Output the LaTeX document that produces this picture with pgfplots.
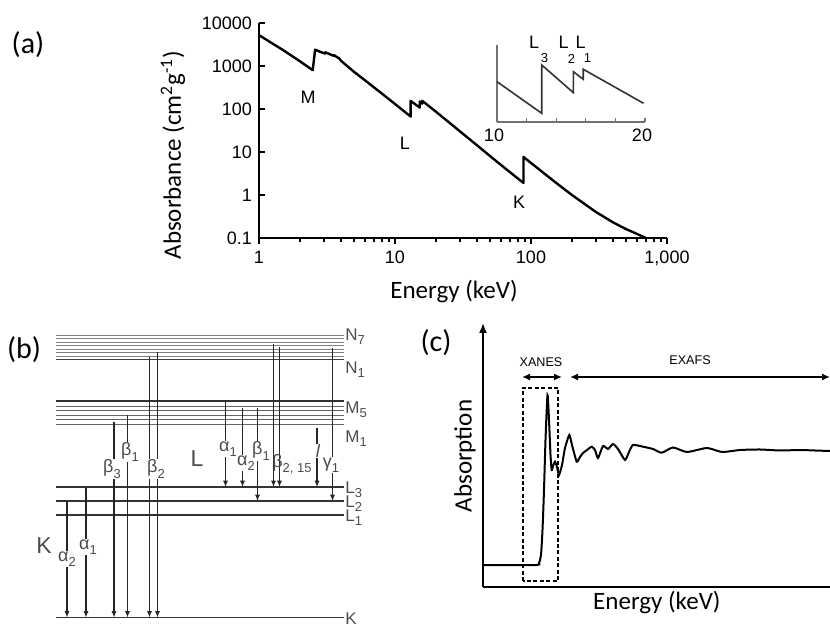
\documentclass[border=0pt]{standalone}
\usepackage{fontspec}
\setmainfont{Carlito}
\newfontfamily\arial{Liberation Sans}
\usepackage{pgfplots}
\pgfplotsset{compat=1.18}
\usetikzlibrary{arrows.meta}

% 1 px of the reference = 0.5pt; axes placed at (px*0.5pt, (626-py)*0.5pt)
\newcommand{\sub}[1]{\raisebox{-0.55ex}{\fontsize{6.5}{7}\selectfont #1}}

\pgfplotstableread{
E mu
1.0 5210
1.5 2356
2.0 1285
2.484 800
2.586 2400
2.8 2150
3.066 1950
3.066 2080
3.554 1720
3.554 1790
3.851 1520
3.851 1560
4.0 1330
5.0 730
6.0 467
8.0 229
10.0 130.6
13.04 66.7
13.04 154
15.2 108
15.2 149
15.86 133
15.86 155
20.0 86.4
30.0 30.3
40.0 14.4
50.0 8.04
60.0 5.02
80.0 2.42
88.0 1.91
88.0 7.68
100 5.55
150 2.01
200 0.999
300 0.403
400 0.232
500 0.161
600 0.125
700 0.100
}\pbtable

\pgfplotstableread{
E a
10.0 40.3
13.02 8.7
13.02 57
15.16 29.3
15.16 50.3
15.83 42.7
15.83 52.7
19.9 18.7
}\insettable

\pgfplotstableread{
E a
0 22
53 22
56 24
58 32
59.5 57
61 97
62.5 147
64.5 192
66 167
67.5 132
68.7 117
70 121
72 125.3
74 120
76 112
79 122
82 139
86.3 152
89 142
93.7 125.3
97 130
100 134
104 137
108.7 140.3
112 137
115 129
120 141
125 138
130 143
135 138
142 127
146 135
150 142
160 140.3
170 138
178.7 134.3
190 139.5
204 135
224 139
239 135
257 137
277 137.5
297 136.5
317 137
332 136.5
347 136
}\xastable

\begin{document}
\begin{tikzpicture}
\path[use as bounding box] (0,0) rectangle (415pt,313pt);

% ---------------- (a) absorbance of lead
\begin{axis}[at={(129.5pt,194pt)}, anchor=south west, scale only axis,
  width=204pt, height=107.5pt,
  xmode=log, ymode=log, xmin=1, xmax=1000, ymin=0.1, ymax=10000,
  axis lines*=left, axis line style={line width=1pt},
  xtick={1,10,100,1000}, xticklabels={1,10,100,{1,000}},
  ytick={0.1,1,10,100,1000,10000}, yticklabels={0.1,1,10,100,1000,10000},
  yminorticks=false,
  xtick align=outside, ytick align=inside,
  major tick length=3pt, minor tick length=2pt,
  tick style={line width=0.8pt, black},
  ticklabel style={font=\arial\fontsize{9}{10}\selectfont},
  xlabel={Energy (keV)},
  ylabel={Absorbance (cm\textsuperscript{2}g\textsuperscript{-1})},
  label style={font=\fontsize{12.5}{14}\selectfont},
  xlabel style={at={(axis description cs:0.478,-0.251)}, anchor=center},
  ylabel style={at={(axis description cs:-0.211,0.386)}, anchor=center},
  clip=false]
\addplot[black, line width=1.2pt, line join=round] table[x=E, y=mu] {\pbtable};
\end{axis}

% inset: L edges
\begin{axis}[at={(248.5pt,252pt)}, anchor=south west, scale only axis,
  width=74pt, height=38.5pt,
  xmin=10, xmax=20, ymin=0, ymax=77,
  axis lines*=left, axis line style={black!55, line width=0.7pt},
  xtick={10,20}, xticklabels={10,20}, minor xtick={12,14,16,18}, ytick=\empty,
  major tick length=2pt, minor tick length=2pt,
  tick style={black!55, line width=0.6pt},
  ticklabel style={font=\arial\fontsize{9}{10}\selectfont, xshift=-1.5pt},
  clip=false]
\addplot[black!80, line width=0.8pt] table[x=E, y=a] {\insettable};
\end{axis}

% ---------------- (c) XANES / EXAFS
\begin{axis}[at={(241.5pt,19.5pt)}, anchor=south west, scale only axis,
  width=173.5pt, height=132pt,
  xmin=0, xmax=347, ymin=0, ymax=264,
  axis lines*=left, axis line style={line width=0.8pt},
  y axis line style={-{Latex[length=5pt,width=4pt]}},
  xtick=\empty, ytick=\empty,
  xlabel={Energy (keV)}, ylabel={Absorption},
  label style={font=\fontsize{12.5}{14}\selectfont},
  xlabel style={at={(axis description cs:0.501,-0.057)}, anchor=center},
  ylabel style={at={(axis description cs:-0.052,0.496)}, anchor=center},
  clip=false]
\addplot[black, line width=1pt, smooth, tension=0.35] table[x=E, y=a] {\xastable};
\draw[line width=0.8pt, dash pattern=on 2pt off 1.2pt] (40,6) rectangle (75,199);
\draw[line width=0.8pt, {Latex[length=4pt,width=3.5pt]}-{Latex[length=4pt,width=3.5pt]}] (39,210) -- (79,210);
\draw[line width=0.8pt, {Latex[length=4pt,width=3.5pt]}-{Latex[length=4pt,width=3.5pt]}] (87,210) -- (347,210);
\end{axis}

% ---------------- overlay in pixel units: (b) and the labels
\begin{axis}[at={(207.5pt,156.5pt)}, anchor=center, scale only axis,
  width=415pt, height=313pt,
  xmin=0, xmax=830, ymin=0, ymax=626, y dir=reverse,
  hide axis, clip=false]
% N levels
\pgfplotsinvokeforeach{335,338.5,342,345.5,349,352.5,356}{
  \addplot[black!50, line width=0.5pt] coordinates {(56,#1) (344,#1)};}
\addplot[black!75, line width=0.6pt] coordinates {(56,359.5) (344,359.5)};
% M levels
\addplot[black!80, line width=0.6pt] coordinates {(56,401) (344,401)};
\pgfplotsinvokeforeach{406,410.5,415,419.5,424}{
  \addplot[black!60, line width=0.5pt] coordinates {(56,#1) (344,#1)};}
% L and K levels
\pgfplotsinvokeforeach{487,501,515,617.5}{
  \addplot[black!80, line width=0.6pt] coordinates {(56,#1) (344,#1)};}
% transitions
\pgfplotsset{tr/.style={black!85, line width=0.55pt, -{Latex[length=3.2pt,width=2.6pt]}}}
\addplot[tr] coordinates {(67,501) (67,617.5)};
\addplot[tr] coordinates {(86,487) (86,617.5)};
\addplot[tr] coordinates {(114,422) (114,617.5)};
\addplot[tr] coordinates {(127.5,415) (127.5,617.5)};
\addplot[tr] coordinates {(149.5,357) (149.5,617.5)};
\addplot[tr] coordinates {(157.5,352) (157.5,617.5)};
\addplot[tr] coordinates {(225.5,401) (225.5,487)};
\addplot[tr] coordinates {(242.5,408) (242.5,487)};
\addplot[tr] coordinates {(257.5,408) (257.5,501)};
\addplot[tr] coordinates {(273.5,344) (273.5,487)};
\addplot[tr] coordinates {(279.5,347) (279.5,487)};
\addplot[tr] coordinates {(317,428) (317,487)};
\addplot[tr] coordinates {(332.5,348) (332.5,501)};

% transition labels
\tikzset{gl/.style={font=\arial\fontsize{9}{10}\selectfont, text=black!70, fill=white, inner sep=0.4pt}}
\node[gl] at (67,559) {α\sub{2}};
\node[gl] at (88,547) {α\sub{1}};
\node[gl] at (112,469) {β\sub{3}};
\node[gl] at (130,452) {β\sub{1}};
\node[gl] at (156,469) {β\sub{2}};
\node[gl] at (228,449) {α\sub{1}};
\node[gl] at (246,463) {α\sub{2}};
\node[gl] at (261,451) {β\sub{1}};
\node[gl, fill=none] at (292,464) {β\sub{2, 15}};
\node[gl] at (318,451) {\textit{l}};
\node[gl] at (331,465) {γ\sub{1}};
\node[font=\arial\fontsize{11.5}{12}\selectfont, text=black!70] at (44,546) {K};
\node[font=\arial\fontsize{11.5}{12}\selectfont, text=black!70] at (197,459) {L};

% level labels
\tikzset{ll/.style={font=\arial\fontsize{8.5}{9}\selectfont, text=black!70, anchor=base west, inner sep=0pt}}
\node[ll] at (345,340) {N\sub{7}};
\node[ll] at (345,373) {N\sub{1}};
\node[ll] at (345,413) {M\sub{5}};
\node[ll] at (345,442) {M\sub{1}};
\node[ll] at (345,493) {L\sub{3}};
\node[ll] at (345,507) {L\sub{2}};
\node[ll] at (345,521) {L\sub{1}};
\node[ll] at (345,624) {K};

% panel (a) labels
\tikzset{al/.style={font=\arial\fontsize{9}{10}\selectfont, inner sep=0pt}}
\node[al] at (308,97) {M};
\node[al] at (405,143) {L};
\node[al] at (519,202) {K};
\node[al] at (534,42) {L};
\node[al, font=\arial\fontsize{6.5}{7}\selectfont] at (544.5,58.5) {3};
\node[al] at (563.5,42) {L};
\node[al, font=\arial\fontsize{6.5}{7}\selectfont] at (571.5,58.5) {2};
\node[al] at (580.5,42) {L};
\node[al, font=\arial\fontsize{6.5}{7}\selectfont] at (587.5,58.5) {1};

% panel (c) labels
\node[font=\arial\fontsize{6.3}{7}\selectfont] at (541,362) {XANES};
\node[font=\arial\fontsize{6.3}{7}\selectfont] at (690,360) {EXAFS};

% panel tags
\node[font=\fontsize{15}{17}\selectfont] at (28,45) {(a)};
\node[font=\fontsize{15}{17}\selectfont] at (24,350) {(b)};
\node[font=\fontsize{15}{17}\selectfont] at (436,343) {(c)};
\end{axis}
\end{tikzpicture}
\end{document}
